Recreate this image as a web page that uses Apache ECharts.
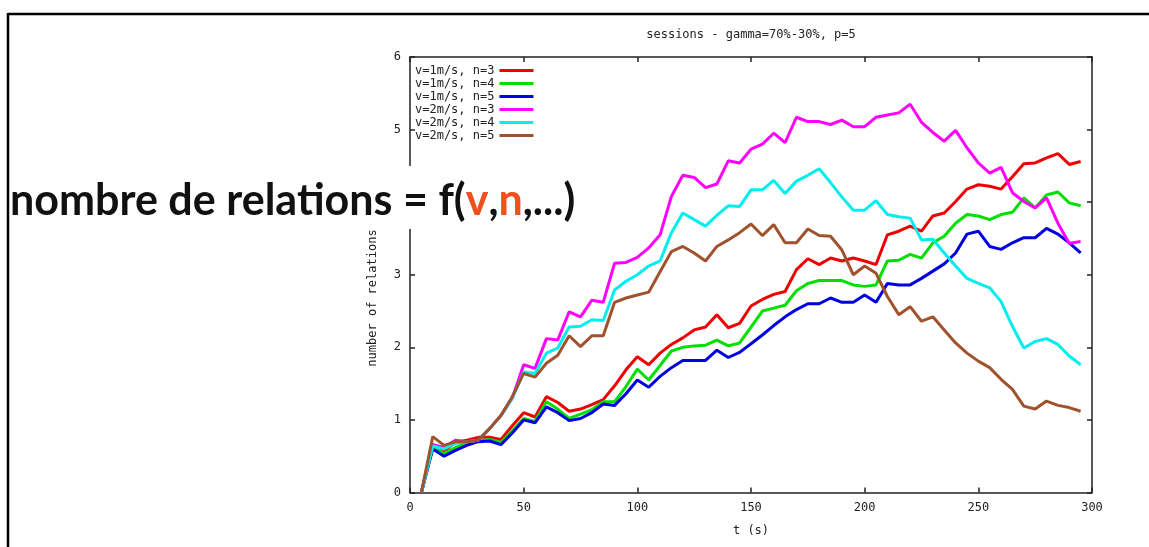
<!DOCTYPE html>
<html>
<head>
<meta charset="utf-8">
<script src="https://cdn.jsdelivr.net/npm/echarts@6/dist/echarts.min.js"></script>
<style>
html,body{margin:0;padding:0;background:#fff;}
#chart{width:1149px;height:547px;}
</style>
</head>
<body>
<div id="chart"></div>
<script>
// ---- data ----
const times = [5,10,15,20,25,30,35,40,45,50,55,60,65,70,75,80,85,90,95,100,105,110,115,120,125,130,135,140,145,150,155,160,165,170,175,180,185,190,195,200,205,210,215,220,225,230,235,240,245,250,255,260,265,270,275,280,285,290,295];
const seriesNames = ['v=1m/s, n=3','v=1m/s, n=4','v=1m/s, n=5','v=2m/s, n=3','v=2m/s, n=4','v=2m/s, n=5'];
const v1n3 = [0,0.66,0.57,0.69,0.72,0.76,0.76,0.73,0.92,1.10,1.04,1.32,1.24,1.12,1.15,1.21,1.28,1.47,1.69,1.87,1.76,1.92,2.04,2.13,2.24,2.28,2.45,2.27,2.33,2.57,2.66,2.73,2.77,3.07,3.22,3.14,3.23,3.19,3.23,3.19,3.14,3.55,3.60,3.67,3.60,3.81,3.85,4.01,4.18,4.24,4.22,4.18,4.35,4.53,4.54,4.61,4.67,4.52,4.56];
const v1n4 = [0,0.62,0.54,0.62,0.68,0.71,0.73,0.69,0.85,1.02,0.98,1.25,1.15,1.02,1.08,1.14,1.25,1.25,1.46,1.70,1.55,1.75,1.95,2.00,2.02,2.03,2.10,2.02,2.06,2.28,2.50,2.54,2.58,2.78,2.88,2.92,2.92,2.92,2.86,2.84,2.86,3.19,3.20,3.28,3.23,3.44,3.53,3.71,3.83,3.81,3.76,3.83,3.86,4.06,3.92,4.10,4.14,3.99,3.95];
const v1n5 = [0,0.60,0.50,0.58,0.65,0.70,0.71,0.66,0.82,1.00,0.96,1.18,1.10,0.99,1.02,1.10,1.22,1.20,1.36,1.55,1.45,1.60,1.72,1.82,1.82,1.82,1.96,1.86,1.93,2.05,2.17,2.30,2.42,2.52,2.60,2.60,2.68,2.62,2.62,2.72,2.62,2.88,2.86,2.86,2.95,3.05,3.15,3.30,3.56,3.60,3.39,3.35,3.44,3.51,3.51,3.64,3.56,3.44,3.30];
const v2n3 = [0,0.66,0.62,0.72,0.70,0.72,0.88,1.06,1.30,1.76,1.71,2.12,2.10,2.49,2.42,2.65,2.62,3.16,3.17,3.24,3.37,3.55,4.08,4.37,4.34,4.20,4.25,4.57,4.54,4.73,4.80,4.95,4.82,5.17,5.11,5.11,5.07,5.13,5.04,5.04,5.17,5.20,5.23,5.35,5.10,4.96,4.84,4.99,4.75,4.54,4.40,4.48,4.13,4.01,3.92,4.06,3.71,3.43,3.46];
const v2n4 = [0,0.64,0.60,0.68,0.70,0.72,0.88,1.06,1.30,1.66,1.64,1.92,1.99,2.28,2.29,2.38,2.37,2.79,2.91,3.00,3.12,3.19,3.58,3.85,3.76,3.67,3.82,3.95,3.94,4.17,4.17,4.30,4.12,4.29,4.37,4.46,4.27,4.07,3.89,3.89,4.02,3.83,3.80,3.78,3.48,3.49,3.30,3.12,2.95,2.88,2.82,2.63,2.29,1.99,2.08,2.12,2.04,1.88,1.76];
const v2n5 = [0,0.77,0.65,0.70,0.70,0.72,0.88,1.06,1.32,1.64,1.59,1.78,1.89,2.16,2.01,2.16,2.16,2.62,2.68,2.72,2.76,3.04,3.32,3.39,3.30,3.19,3.39,3.48,3.58,3.70,3.54,3.69,3.44,3.44,3.63,3.54,3.53,3.34,3.00,3.12,3.02,2.70,2.45,2.56,2.36,2.42,2.24,2.06,1.92,1.81,1.72,1.56,1.42,1.19,1.15,1.26,1.20,1.17,1.12];
const xTicks = [0,50,100,150,200,250,300];
const yTicks = [0,1,2,3,4,5,6];
const titleText = 'sessions - gamma=70%-30%, p=5';
const xName = 't (s)';
const yName = 'number of relations';

// ---- styling ----
const allValues = [v1n3, v1n4, v1n5, v2n3, v2n4, v2n5];
const colors = ['#f00000','#00e000','#0000e0','#ff00ff','#00eeee','#a0522d'];
const mono = '"DejaVu Sans Mono", "Liberation Mono", monospace';
const frameColor = '#222';

const chart = echarts.init(document.getElementById('chart'), null, {renderer:'canvas'});

const series = allValues.map((vals, i) => ({
  name: seriesNames[i],
  type: 'line',
  data: vals.map((v, k) => [times[k], v]),
  showSymbol: false,
  symbol: 'none',
  lineStyle: {width: 3, color: colors[i]},
  itemStyle: {color: colors[i]},
  animation: false,
  z: 2 + i
}));

// fit overlay text width
const c = document.createElement('canvas').getContext('2d');
const overlayFont = 'Lato';
c.font = 'bold 100px ' + overlayFont;
const wText = c.measureText('nombre de relations = f(v,n,...)').width;
const overlaySize = 100 * 563 / wText;

const xAxisBase = {
  type: 'value', min: xTicks[0], max: xTicks[xTicks.length-1], interval: 50,
  axisLine: {show: true, onZero: false, lineStyle: {color: frameColor, width: 1.5}},
  axisTick: {show: true, inside: true, length: 5, lineStyle: {color: frameColor, width: 1.5}},
  splitLine: {show: false}
};
const yAxisBase = {
  type: 'value', min: yTicks[0], max: yTicks[yTicks.length-1], interval: 1,
  axisLine: {show: true, onZero: false, lineStyle: {color: frameColor, width: 1.5}},
  axisTick: {show: true, inside: true, length: 5, lineStyle: {color: frameColor, width: 1.5}},
  splitLine: {show: false}
};

chart.setOption({
  animation: false,
  backgroundColor: '#fff',
  title: {
    text: titleText, left: 751, top: 29, textAlign: 'center', padding: 0,
    textStyle: {fontFamily: mono, fontSize: 12, fontWeight: 'normal', color: '#222'}
  },
  legend: {
    orient: 'vertical', left: 415, top: 64, padding: 0, itemGap: 0,
    align: 'right', icon: 'rect', itemWidth: 34, itemHeight: 3,
    data: seriesNames,
    textStyle: {fontFamily: mono, fontSize: 12, color: '#222', lineHeight: 13}
  },
  grid: {left: 410, right: 57, top: 57, bottom: 54.5, containLabel: false},
  xAxis: [
    Object.assign({}, xAxisBase, {
      position: 'bottom',
      axisLabel: {show: true, margin: 9, fontFamily: mono, fontSize: 12, color: '#222'},
      name: xName, nameLocation: 'middle', nameGap: 32,
      nameTextStyle: {fontFamily: mono, fontSize: 12, color: '#222'}
    }),
    Object.assign({}, xAxisBase, {position: 'top', axisLabel: {show: false}})
  ],
  yAxis: [
    Object.assign({}, yAxisBase, {
      position: 'left',
      axisLabel: {show: true, margin: 9, fontFamily: mono, fontSize: 12, color: '#222'}
    }),
    Object.assign({}, yAxisBase, {position: 'right', axisLabel: {show: false}})
  ],
  series: series,
  graphic: [
    {type: 'line', shape: {x1: 8, y1: 14, x2: 1149, y2: 14}, style: {stroke: '#000', lineWidth: 2.5}, z: 100},
    {type: 'line', shape: {x1: 8, y1: 13, x2: 8, y2: 547}, style: {stroke: '#000', lineWidth: 2.5}, z: 100},
    {type: 'text', x: 373, y: 298, rotation: Math.PI / 2,
      style: {text: yName, fontFamily: mono, fontSize: 12, fill: '#222', align: 'center', verticalAlign: 'middle'}, z: 100},
    {type: 'rect', shape: {x: 12, y: 166, width: 580, height: 63}, style: {fill: '#fff'}, z: 200},
    {type: 'text', x: 10, y: 201, z: 201,
      style: {
        text: '{k|nombre de relations = f(}{o|v}{k|,}{o|n}{k|,...)}',
        verticalAlign: 'middle', align: 'left',
        rich: {
          k: {fill: '#111', fontFamily: overlayFont, fontWeight: 'bold', fontSize: overlaySize},
          o: {fill: '#f0501e', fontFamily: overlayFont, fontWeight: 'bold', fontSize: overlaySize}
        }
      }
    }
  ]
});
</script>
</body>
</html>
